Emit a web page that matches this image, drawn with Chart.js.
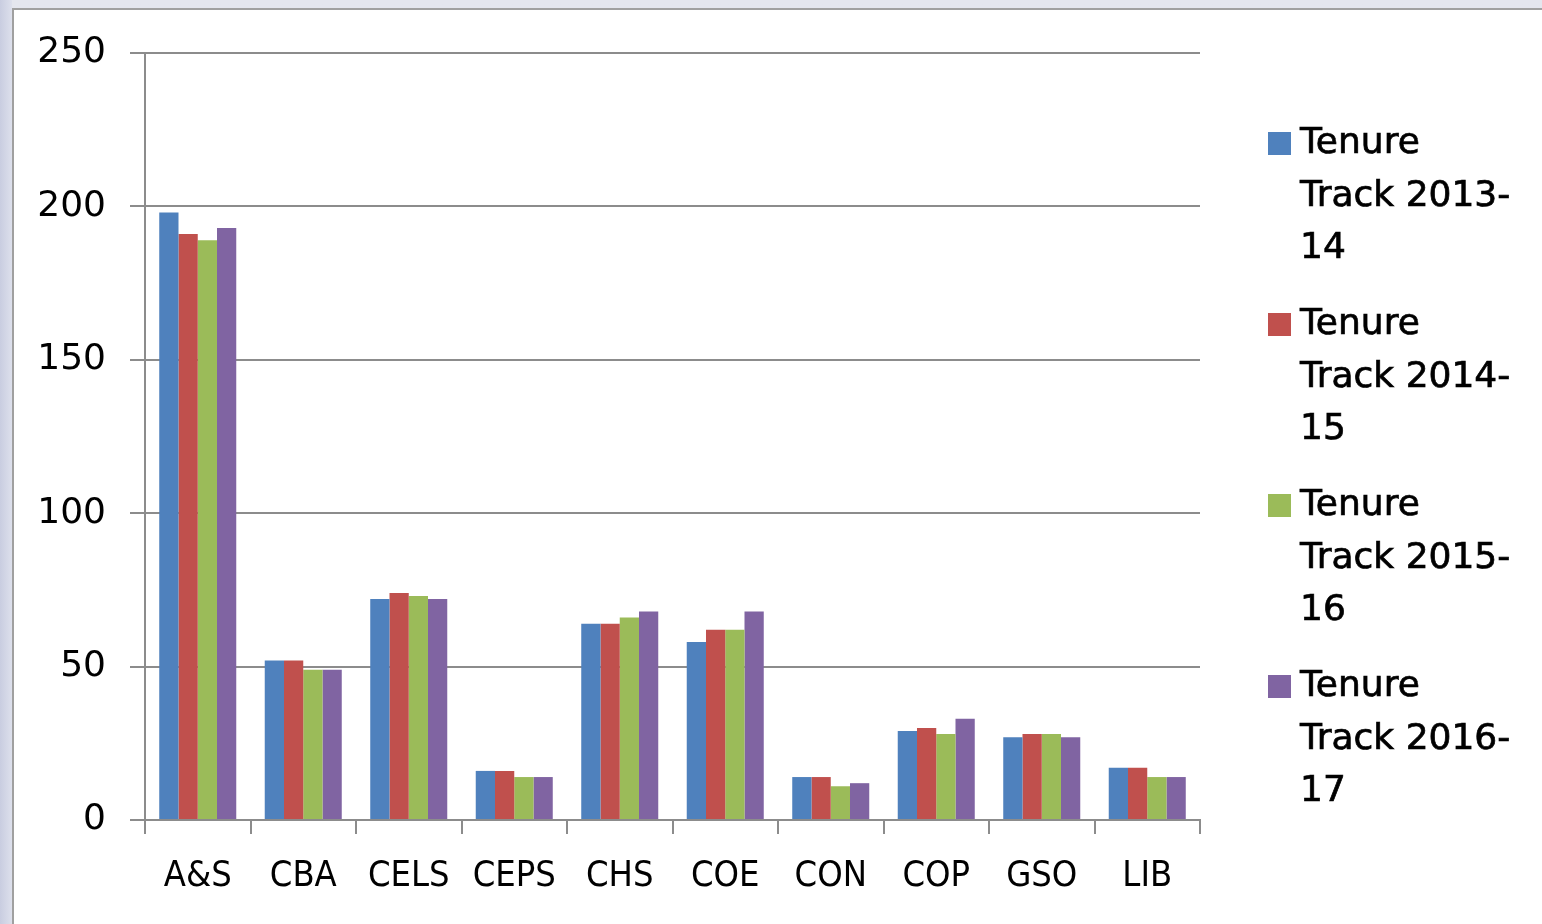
<!DOCTYPE html>
<html><head><meta charset="utf-8">
<script src="https://cdn.jsdelivr.net/npm/chart.js@4.4.1/dist/chart.umd.min.js"></script>
<style>
html,body{margin:0;padding:0;width:1542px;height:924px;overflow:hidden;background:linear-gradient(180deg,#e4e6ee 0,#dfe1ea 100%);}
#strip{position:absolute;left:0;top:0;width:12px;height:924px;background:linear-gradient(90deg,#c9cde0,#dde0ec);}
#frame{position:absolute;left:12px;top:8px;width:1540px;height:930px;background:#fff;border-left:2px solid #a0a0a0;border-top:2px solid #a0a0a0;}
#wrap{position:absolute;left:0;top:0;width:1542px;height:924px;}
</style></head>
<body>
<div id="strip"></div>
<div id="frame"></div>
<div id="wrap"><canvas id="c"></canvas></div>
<script>
const categories = ['A&S','CBA','CELS','CEPS','CHS','COE','CON','COP','GSO','LIB'];
const seriesLabels = ['Tenure Track 2013-14','Tenure Track 2014-15','Tenure Track 2015-16','Tenure Track 2016-17'];
const tt2013 = [198,52,72,16,64,58,14,29,27,17];
const tt2014 = [191,52,74,16,64,62,14,30,28,17];
const tt2015 = [189,49,73,14,66,62,11,28,28,14];
const tt2016 = [193,49,72,14,68,68,12,33,27,14];
const yTickValues = [0,50,100,150,200,250];
const seriesColors = ['#4F81BD','#C0504D','#9BBB59','#8064A2'];

const FONT = '"DejaVu Sans", Verdana, sans-serif';
const FONT_COND = '"DejaVu Sans Condensed", "DejaVu Sans", sans-serif';

function wrapText(ctx, text, maxW){
  const tokens = text.replace(/-/g,'-\u0000').split(/(?<=\s)|\u0000/).filter(t=>t.length);
  const lines=[]; let cur='';
  tokens.forEach(t=>{
    const test = cur + t;
    if (cur && ctx.measureText(test.trimEnd()).width > maxW){ lines.push(cur.trimEnd()); cur = t; }
    else cur = test;
  });
  if (cur) lines.push(cur.trimEnd());
  return lines;
}

const sideLegend = {
  id:'sideLegend',
  afterDraw(chart){
    const ctx = chart.ctx;
    ctx.save();
    ctx.font = '36px ' + FONT;
    ctx.textBaseline = 'middle';
    ctx.textAlign = 'left';
    ctx.lineWidth = 0.7;
    ctx.strokeStyle = '#000';
    chart.data.datasets.forEach((ds,i)=>{
      const y0 = 144 + i*181;
      ctx.fillStyle = ds.backgroundColor;
      ctx.fillRect(1268, y0-12, 23, 23);
      ctx.fillStyle = '#000';
      wrapText(ctx, ds.label, 220).forEach((ln,j)=>{
        ctx.fillText(ln, 1300, y0 + j*52.5);
        ctx.strokeText(ln, 1300, y0 + j*52.5);
      });
    });
    ctx.restore();
  }
};

const allSeries = [tt2013, tt2014, tt2015, tt2016];
new Chart(document.getElementById('c'), {
  type:'bar',
  data:{
    labels: categories,
    datasets: allSeries.map((d,i)=>({label: seriesLabels[i], data: d, backgroundColor: seriesColors[i], borderWidth:0, categoryPercentage:0.73, barPercentage:1.0}))
  },
  options:{
    responsive:true, maintainAspectRatio:false, animation:false,
    layout:{padding:{left:0,right:342,top:53,bottom:0}},
    plugins:{legend:{display:false}, tooltip:{enabled:false}},
    scales:{
      x:{
        grid:{display:true, drawOnChartArea:false, drawTicks:true, tickLength:14, color:'#8c8c8c', lineWidth:2, offset:true},
        border:{color:'#8c8c8c', width:2},
        ticks:{font:{size:36, family:FONT_COND}, color:'#000', padding:21, maxRotation:0, autoSkip:false},
        afterFit(s){ s.height = 104; }
      },
      y:{
        min:0, max:250,
        afterBuildTicks(s){ s.ticks = yTickValues.map(v=>({value:v})); },
        grid:{color:'#8c8c8c', lineWidth:2, tickLength:15},
        border:{color:'#8c8c8c', width:2},
        ticks:{font:{size:36, family:FONT}, color:'#000', padding:24},
        afterFit(s){ s.width = 145; }
      }
    }
  },
  plugins:[sideLegend]
});
</script>
</body></html>
